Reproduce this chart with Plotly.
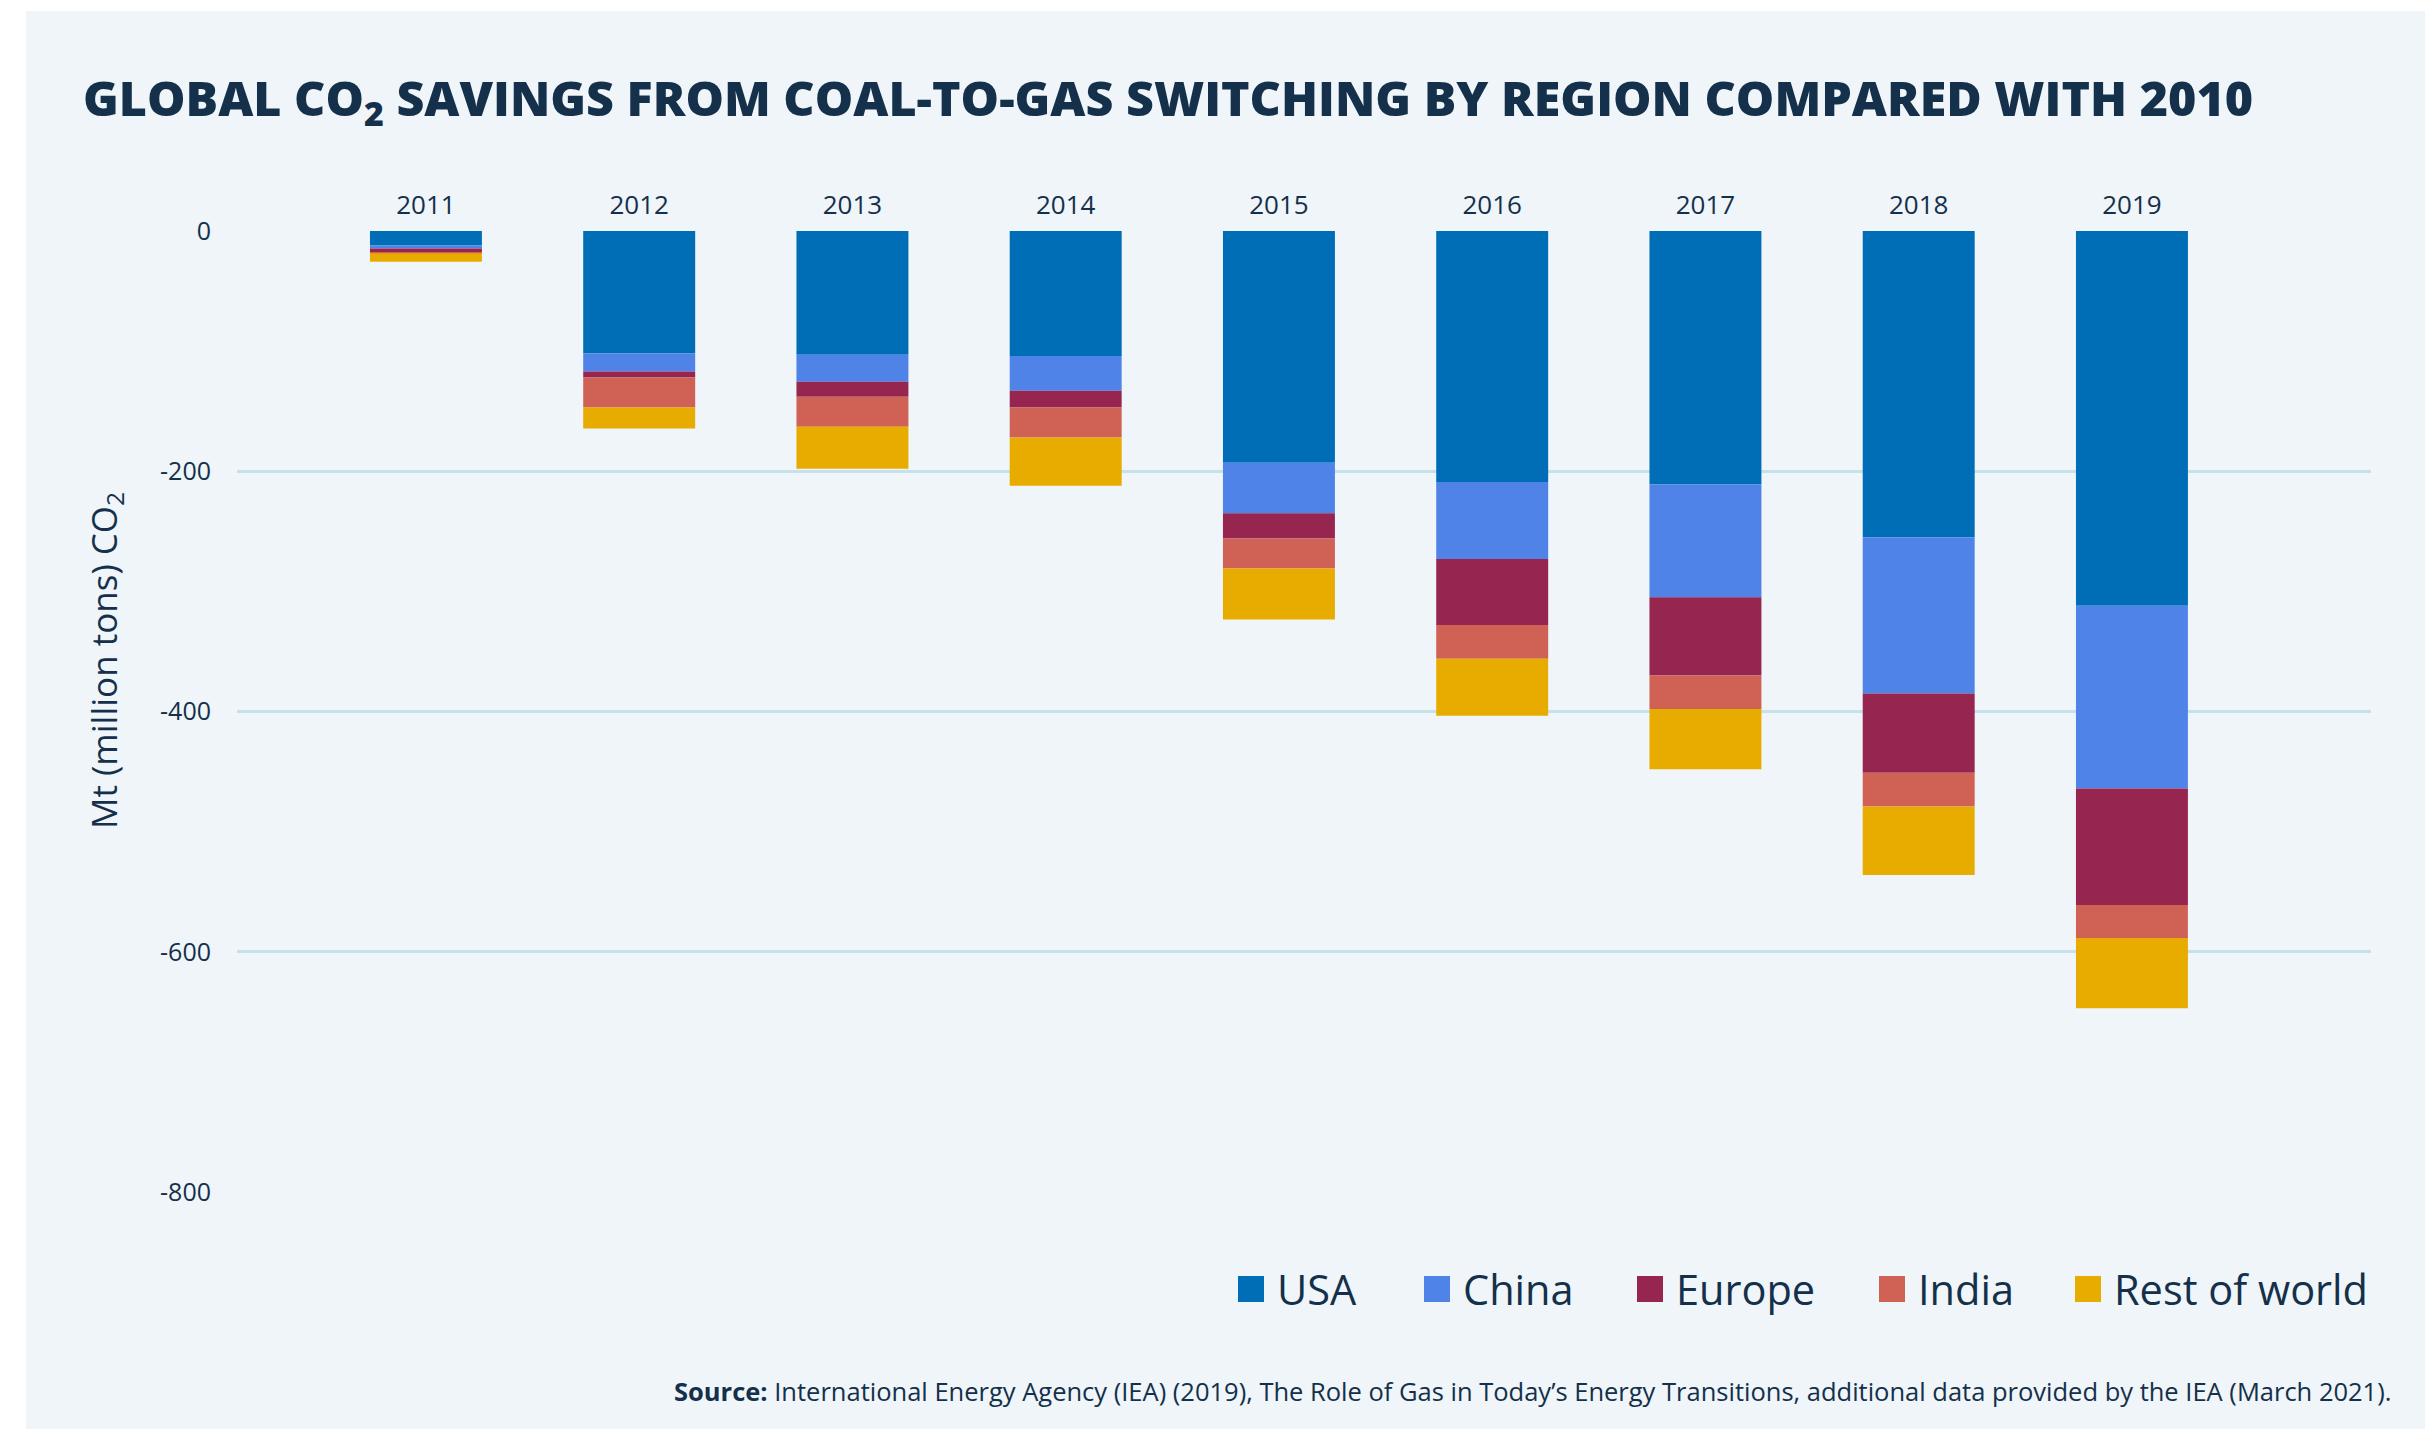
import plotly.graph_objects as go

# data (Mt CO2, savings shown as negatives)
years = ['2011', '2012', '2013', '2014', '2015', '2016', '2017', '2018', '2019']
usa = [-12, -102, -103, -104, -193, -209, -211, -255, -312]
china = [-2.5, -15, -22.5, -29, -42, -64, -94, -130, -152]
europe = [-3.3, -5, -12.5, -14, -21, -55, -65, -66, -97]
india = [-0.8, -25, -25, -25, -25, -28, -28, -28, -27.5]
rest_of_world = [-7, -17.5, -35, -40, -42.5, -47.5, -50, -57, -58.5]

region_names = ['USA', 'China', 'Europe', 'India', 'Rest of world']
region_colors = ['#006EB6', '#4F83E8', '#962650', '#D06255', '#E8AB00']

y_ticks = [0, -200, -400, -600, -800]
y_ticktext = ['0', '-200', '-400', '-600', '-800']

W, H = 2431, 1429
L, R, T, B = 237, 60, 230, 236
TXT = '#14304A'
FONT = 'Open Sans'


def px_x(px):
    return (px - L) / (W - L - R)


def px_y(py):
    return (H - B - py) / (H - T - B)


fig = go.Figure()
for name, vals, col in zip(region_names, [usa, china, europe, india, rest_of_world], region_colors):
    fig.add_trace(go.Bar(x=years, y=vals, name=name, marker=dict(color=col, line=dict(width=0)),
                         showlegend=False))

shapes = [
    # light panel behind everything
    dict(type='rect', xref='paper', yref='paper', x0=px_x(26), x1=px_x(2425), y0=px_y(1429), y1=px_y(11),
         fillcolor='#EFF5F9', line_width=0, layer='below'),
]
annotations = [
    dict(text='GLOBAL CO<sub>2</sub> SAVINGS FROM COAL-TO-GAS SWITCHING BY REGION COMPARED WITH 2010',
         xref='paper', yref='paper', x=px_x(81), y=px_y(100), xanchor='left', yanchor='middle',
         showarrow=False, font=dict(family=FONT, size=48.4, color=TXT, weight=800)),
    dict(text='Mt (million tons) CO<sub>2</sub>', textangle=-90,
         xref='paper', yref='paper', x=px_x(105), y=px_y(661), xanchor='center', yanchor='middle',
         showarrow=False, font=dict(family=FONT, size=35, color=TXT)),
    dict(text='<b>Source:</b> International Energy Agency (IEA) (2019), The Role of Gas in Today\u2019s Energy '
              'Transitions, additional data provided by the IEA (March 2021).',
         xref='paper', yref='paper', x=px_x(2393), y=px_y(1391), xanchor='right', yanchor='middle',
         showarrow=False, font=dict(family=FONT, size=25.5, color=TXT)),
]

# hand-drawn legend so the swatches can be as big as in the original
legend_sq = [1238, 1424, 1637, 1879, 2075]
for name, col, sx in zip(region_names, region_colors, legend_sq):
    shapes.append(dict(type='rect', xref='paper', yref='paper', x0=px_x(sx), x1=px_x(sx + 26),
                       y0=px_y(1302), y1=px_y(1276), fillcolor=col, line_width=0))
    annotations.append(dict(text=name, xref='paper', yref='paper', x=px_x(sx + 37), y=px_y(1289),
                            xanchor='left', yanchor='middle', showarrow=False,
                            font=dict(family=FONT, size=41.5, color=TXT)))

fig.update_layout(
    width=W, height=H,
    margin=dict(l=L, r=R, t=T, b=B),
    paper_bgcolor='white',
    plot_bgcolor='rgba(0,0,0,0)',
    barmode='relative',
    bargap=0.475,
    font=dict(family=FONT, color=TXT),
    xaxis=dict(
        type='category', side='top', range=[-0.886, 9.121],
        showgrid=False, zeroline=False, showline=False,
        ticks='outside', ticklen=5, tickcolor='rgba(0,0,0,0)',
        tickfont=dict(family=FONT, size=26, color=TXT),
    ),
    yaxis=dict(
        range=[-800.8, 0.8],
        tickvals=y_ticks, ticktext=y_ticktext,
        showgrid=True, gridcolor='#C7E1EA', gridwidth=3,
        zeroline=False, showline=False,
        ticks='outside', ticklen=20, tickcolor='rgba(0,0,0,0)',
        tickfont=dict(family=FONT, size=25, color=TXT),
    ),
    shapes=shapes,
    annotations=annotations,
    showlegend=False,
)

fig.write_html('out.html', config={'displayModeBar': False},
               post_script="document.body.style.margin='0';")
